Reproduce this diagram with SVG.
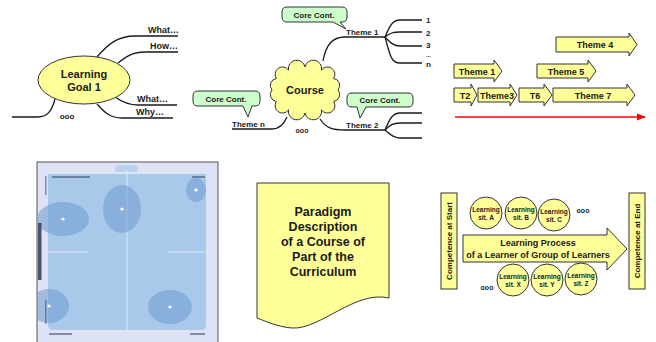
<svg xmlns="http://www.w3.org/2000/svg" width="656" height="342" viewBox="0 0 656 342">
  <defs>
    <style>
      text { font-family: "Liberation Sans", Arial, sans-serif; font-weight: bold; fill: #1a1a1a; }
      .line { fill: none; stroke: #1a1a1a; stroke-width: 1.3; }
      .yel { fill: #ffff99; stroke: #333; stroke-width: 1; }
      .callout { fill: #ccffcc; stroke: #333; stroke-width: 1; }
      .c { text-anchor: middle; }
      .lbl { font-size: 9px; }
      .small { font-size: 8px; }
      .blob { fill: #6f9bd0; fill-opacity: 0.55; }
      .dot { fill: #ffffff; }
      .smudge { fill: #3b4766; fill-opacity: 0.55; }
    </style>
    <marker id="redhead" viewBox="0 0 10 10" refX="9" refY="5" markerWidth="6" markerHeight="6" orient="auto">
      <path d="M0,1 L10,5 L0,9 Z" fill="#ff0000"/>
    </marker>
    <filter id="soft" x="-5%" y="-5%" width="110%" height="110%">
      <feGaussianBlur stdDeviation="0.6"/>
    </filter>
    <clipPath id="frameClip">
      <rect x="37" y="162" width="181" height="182"/>
    </clipPath>
  </defs>

  <!-- Mind map connectors, course branches and timeline axis -->
  <g id="connectors">
    <path class="line" d="M97,57 C108,44 118,36 135,36 H178"/>
    <path class="line" d="M118,63 C127,56 133,52 145,52 H178"/>
    <path class="line" d="M115,97 C122,102 128,105 138,105 H177"/>
    <path class="line" d="M97,104 C104,112 110,118 122,118 H173"/>
    <path class="line" d="M55,99 C52,110 48,117 38,117 H12"/>
    <path class="line" d="M323,61 C326,45 332,37 345,37 H385"/>
    <path class="line" d="M385,37 C390,25 393,20 400,20 H422"/>
    <path class="line" d="M385,37 C390,33 393,32 400,32 H422"/>
    <path class="line" d="M385,37 C390,42 393,46 400,46 H422"/>
    <path class="line" d="M385,37 C390,55 391,63 400,63 H422"/>
    <path class="line" d="M320,119 C326,128 332,130 345,130 H385"/>
    <path class="line" d="M385,130 C390,118 393,113 400,113 H422"/>
    <path class="line" d="M385,130 C390,125 393,123 400,123 H422"/>
    <path class="line" d="M385,130 C390,134 393,138 400,138 H422"/>
    <path class="line" d="M232,129 H272 C280,129 284,124 287,117"/>
    <line x1="455" y1="117" x2="645" y2="117" stroke="#ff0000" stroke-width="1.5" marker-end="url(#redhead)"/>
  </g>

  <g id="learning-goal">
    <ellipse class="yel" cx="84" cy="80" rx="46" ry="24"/>
    <text class="c" x="84" y="78" font-size="11">Learning</text>
    <text class="c" x="84" y="91" font-size="11">Goal 1</text>
  </g>
  <g id="goal-labels">
    <text class="lbl" x="148" y="33">What…</text>
    <text class="lbl" x="150" y="49">How…</text>
    <text class="lbl" x="137" y="102">What…</text>
    <text class="lbl" x="136" y="115">Why…</text>
    <text class="c" x="67" y="119" font-size="8">ooo</text>
  </g>

  <!-- Mind map: Course -->
  <g id="course">
    <path class="yel" d="M272,90 A7,7 0 0 1 276.4,78.5 A7,7 0 0 1 288.5,70.1 A8,8 0 0 1 305,67 A8,8 0 0 1 321.5,70.1 A7,7 0 0 1 333.6,78.5 A7,7 0 0 1 338,90 A7,7 0 0 1 333.6,101.5 A7,7 0 0 1 321.5,109.9 A8,8 0 0 1 305,113 A8,8 0 0 1 288.5,109.9 A7,7 0 0 1 276.4,101.5 A7,7 0 0 1 272,90 Z"/>
    <text class="c" x="305" y="94" font-size="11">Course</text>
    <text class="c" x="302" y="133" font-size="7">ooo</text>
  </g>
  <g id="core-top">
    <path class="callout" d="M287,7 H342 Q347,7 347,12 V17 Q347,22 342,22 H340 L346,29 L333,22 H287 Q282,22 282,17 V12 Q282,7 287,7 Z"/>
    <text class="c small" x="314" y="18">Core Cont.</text>
  </g>
  <g id="core-left">
    <path class="callout" d="M198,91 H255 Q260,91 260,96 V101 Q260,106 255,106 H252 L248,117 L243,106 H198 Q193,106 193,101 V96 Q193,91 198,91 Z"/>
    <text class="c small" x="226" y="102">Core Cont.</text>
  </g>
  <g id="core-right">
    <path class="callout" d="M352,93 H408 Q413,93 413,98 V102 Q413,107 408,107 H366 L360,118 L357,107 H352 Q347,107 347,102 V98 Q347,93 352,93 Z"/>
    <text class="c small" x="380" y="103">Core Cont.</text>
  </g>
  <g id="theme-labels">
    <text class="small" x="346" y="35">Theme 1</text>
    <text class="small" x="346" y="128">Theme 2</text>
    <text class="small" x="232" y="127">Theme n</text>
    <text class="small" x="426" y="23">1</text>
    <text class="small" x="426" y="36">2</text>
    <text class="small" x="426" y="48">3</text>
    <text x="426" y="57" font-size="6">...</text>
    <text class="small" x="426" y="67">n</text>
  </g>

  <!-- Theme timeline -->
  <g id="theme4">
    <path class="yel" d="M556,37 H629 V33 L637,44.5 L629,56 V52 H556 Z"/>
    <text class="c lbl" x="595" y="48">Theme 4</text>
  </g>
  <g id="theme1">
    <path class="yel" d="M454,64 H494 V60 L502,71 L494,82 V78 H454 Z"/>
    <text class="c lbl" x="477" y="75">Theme 1</text>
  </g>
  <g id="theme5">
    <path class="yel" d="M537,64 H588 V60 L596,71 L588,82 V78 H537 Z"/>
    <text class="c lbl" x="566" y="75">Theme 5</text>
  </g>
  <g id="t2">
    <path class="yel" d="M454,88 H471 V84 L477,95 L471,106 V102 H454 Z"/>
    <text class="c lbl" x="465" y="99">T2</text>
  </g>
  <g id="theme3">
    <path class="yel" d="M478,88 H510 V84 L517,95 L510,106 V102 H478 Z"/>
    <text class="c lbl" x="497" y="99">Theme3</text>
  </g>
  <g id="t6">
    <path class="yel" d="M519,88 H544 V84 L552,95 L544,106 V102 H519 Z"/>
    <text class="c lbl" x="535" y="99">T6</text>
  </g>
  <g id="theme7">
    <path class="yel" d="M553,88 H627 V84 L635,95 L627,106 V102 H553 Z"/>
    <text class="c lbl" x="593" y="99">Theme 7</text>
  </g>

  <!-- Portfolio chart -->
  <g id="chart" filter="url(#soft)">
    <rect x="37" y="162" width="181" height="184" fill="#dde3f4" stroke="#555" stroke-width="1"/>
    <g clip-path="url(#frameClip)">
      <path d="M48,174 H206 V325 Q206,330 201,330 H53 Q48,330 48,325 Z" fill="#a9c9ea"/>
      <rect x="115" y="165" width="23" height="7" rx="3.5" fill="#b9d1ef"/>
      <line x1="127" y1="170" x2="127" y2="330" stroke="#e8f0fa" stroke-width="0.8"/>
      <line x1="48" y1="252" x2="88" y2="252" stroke="#e8f0fa" stroke-width="0.8"/>
      <line x1="168" y1="252" x2="205" y2="252" stroke="#e8f0fa" stroke-width="0.8"/>
      <ellipse class="blob" cx="196" cy="190" rx="10" ry="12"/>
      <ellipse class="blob" cx="122" cy="209" rx="19" ry="24"/>
      <ellipse class="blob" cx="63" cy="219" rx="26" ry="17"/>
      <ellipse class="blob" cx="49" cy="306" rx="20" ry="17"/>
      <ellipse class="blob" cx="170" cy="307" rx="22" ry="17"/>
      <circle class="dot" cx="196" cy="190" r="1.6"/>
      <circle class="dot" cx="122" cy="209" r="1.6"/>
      <circle class="dot" cx="63" cy="219" r="1.6"/>
      <circle class="dot" cx="49" cy="306" r="1.6"/>
      <circle class="dot" cx="170" cy="307" r="1.6"/>
      <rect class="smudge" x="52" y="176" width="38" height="2"/>
      <rect class="smudge" x="192" y="176" width="13" height="2"/>
      <rect class="smudge" x="49" y="333" width="23" height="2"/>
      <rect class="smudge" x="190" y="333" width="15" height="2"/>
      <rect class="smudge" x="45" y="176" width="1.5" height="19"/>
      <rect x="38" y="223" width="3.5" height="57" fill="#2e3a5c" fill-opacity="0.85"/>
      <rect class="smudge" x="45" y="300" width="1.5" height="24"/>
    </g>
  </g>

  <!-- Paradigm description document -->
  <g id="paradigm">
    <path class="yel" d="M257,183 H389 V298 C355,290 320,330 292,328 C278,327 265,321 257,318 Z"/>
    <text class="c" x="323" y="216" font-size="12.5">Paradigm</text>
    <text class="c" x="323" y="231" font-size="12.5">Description</text>
    <text class="c" x="323" y="246" font-size="12.5">of a Course of</text>
    <text class="c" x="323" y="261" font-size="12.5">Part of the</text>
    <text class="c" x="323" y="276" font-size="12.5">Curriculum</text>
  </g>

  <!-- Learning process -->
  <g id="competence-start">
    <rect class="yel" x="441" y="193" width="16" height="96"/>
    <text class="c small" transform="translate(452,241) rotate(-90)">Competence at Start</text>
  </g>
  <g id="competence-end">
    <rect class="yel" x="629" y="193" width="16" height="96"/>
    <text class="c small" transform="translate(640,241) rotate(-90)">Competence at End</text>
  </g>
  <g id="learning-process">
    <path class="yel" d="M463,235 H607 V228 L627,249 L607,270 V262 H463 Z"/>
    <text class="c lbl" x="538" y="246">Learning Process</text>
    <text class="c lbl" x="538" y="258">of a Learner of Group of Learners</text>
  </g>
  <g id="sit-a">
    <circle class="yel" cx="486" cy="213" r="16"/>
    <text class="c" x="486" y="212" font-size="6.5">Learning</text>
    <text class="c" x="486" y="220" font-size="6.5">sit. A</text>
  </g>
  <g id="sit-b">
    <circle class="yel" cx="521" cy="213" r="16"/>
    <text class="c" x="521" y="212" font-size="6.5">Learning</text>
    <text class="c" x="521" y="220" font-size="6.5">sit. B</text>
  </g>
  <g id="sit-c">
    <circle class="yel" cx="554" cy="215" r="16"/>
    <text class="c" x="554" y="214" font-size="6.5">Learning</text>
    <text class="c" x="554" y="222" font-size="6.5">sit. C</text>
  </g>
  <g id="sit-x">
    <circle class="yel" cx="513" cy="280" r="16"/>
    <text class="c" x="513" y="279" font-size="6.5">Learning</text>
    <text class="c" x="513" y="287" font-size="6.5">sit. X</text>
  </g>
  <g id="sit-y">
    <circle class="yel" cx="547" cy="280" r="16"/>
    <text class="c" x="547" y="279" font-size="6.5">Learning</text>
    <text class="c" x="547" y="287" font-size="6.5">sit. Y</text>
  </g>
  <g id="sit-z">
    <circle class="yel" cx="581" cy="279" r="16"/>
    <text class="c" x="581" y="278" font-size="6.5">Learning</text>
    <text class="c" x="581" y="286" font-size="6.5">sit. Z</text>
  </g>
  <g id="more-situations">
    <text class="c" x="583" y="213" font-size="7">ooo</text>
    <text class="c" x="487" y="290" font-size="7">ooo</text>
  </g>
</svg>
